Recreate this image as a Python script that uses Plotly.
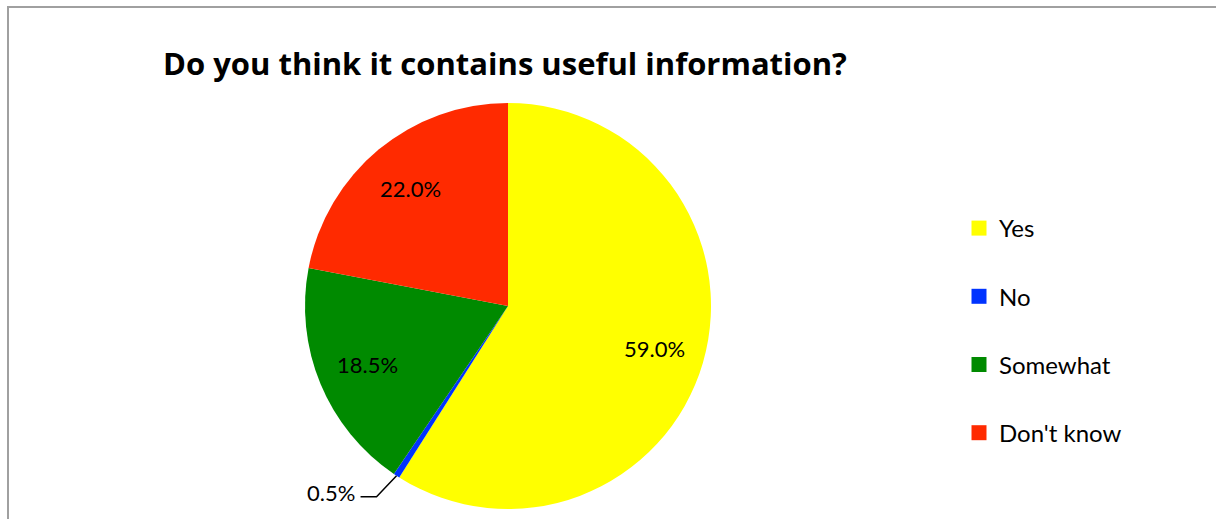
import math
import plotly.graph_objects as go

# Survey answers
categories = ["Yes", "No", "Somewhat", "Don't know"]
shares = [59.0, 0.5, 18.5, 22.0]
colors = ["#FFFF00", "#0033FF", "#008A00", "#FF2A00"]
title_text = "Do you think it contains useful information?"

W, H = 1216, 519
FONT = "Lato, Liberation Sans, sans-serif"

# Pie placement in pixels
cx, cy, r = 508, 306, 203

fig = go.Figure()
fig.add_trace(go.Pie(
    labels=categories,
    values=shares,
    sort=False,
    direction="clockwise",
    rotation=0,
    marker=dict(colors=colors, line=dict(width=0)),
    textinfo="none",
    hoverinfo="label+percent",
    showlegend=False,
    domain=dict(x=[(cx - r) / W, (cx + r) / W], y=[(H - cy - r) / H, (H - cy + r) / H]),
))

# Legend entries drawn as square markers, one group each for wide spacing
for name, col in zip(categories, colors):
    fig.add_trace(go.Scatter(
        x=[None], y=[None], mode="markers", name=name,
        marker=dict(symbol="square", size=15, color=col),
        legendgroup=name, showlegend=True,
    ))


def to_paper(px, py):
    return px / W, 1 - py / H


annotations = []
shapes = []
total = sum(shares)
cum = 0.0
for name, v in zip(categories, shares):
    mid = (cum + v / 2) / total * 2 * math.pi
    cum += v
    sx, sy = math.sin(mid), -math.cos(mid)
    label = f"{v:.1f}%"
    if v / total > 0.02:
        px, py = cx + 0.75 * r * sx, cy + 0.75 * r * sy
        x, y = to_paper(px, py)
        annotations.append(dict(x=x, y=y, xref="paper", yref="paper", text=label,
                                xanchor="center", yanchor="middle", showarrow=False,
                                font=dict(size=22, color="#000000", family=FONT)))
    else:
        # small slice: label outside with a leader line
        ex, ey = cx + r * sx, cy + r * sy
        kx, ky = ex - 20, ey + 21
        tx = kx - 16
        x0, y0 = to_paper(ex, ey)
        x1, y1 = to_paper(kx, ky)
        x2, y2 = to_paper(tx, ky)
        shapes.append(dict(type="path", xref="paper", yref="paper",
                           path=f"M {x0} {y0} L {x1} {y1} L {x2} {y2}",
                           line=dict(color="#000000", width=1.5)))
        lx, ly = to_paper(tx - 4, ky - 4)
        annotations.append(dict(x=lx, y=ly, xref="paper", yref="paper", text=label,
                                xanchor="right", yanchor="middle", showarrow=False,
                                font=dict(size=22, color="#000000", family=FONT)))

# Chart area frame
shapes.append(dict(type="rect", xref="paper", yref="paper",
                   x0=8 / W, y0=-0.05, x1=1.05, y1=1 - 7 / H,
                   line=dict(color="#A0A0A0", width=2), fillcolor="rgba(0,0,0,0)"))

annotations.append(dict(x=505 / W, y=1 - 63 / H, xref="paper", yref="paper",
                        xanchor="center", yanchor="middle",
                        text=f"<b>{title_text}</b>", showarrow=False,
                        font=dict(size=31, color="#000000", family="Open Sans, sans-serif")))

fig.update_layout(
    width=W, height=H,
    margin=dict(l=0, r=0, t=0, b=0),
    paper_bgcolor="white", plot_bgcolor="white",
    xaxis=dict(visible=False), yaxis=dict(visible=False),
    annotations=annotations, shapes=shapes,
    legend=dict(x=959 / W, y=1 - 206 / H, xanchor="left", yanchor="top",
                tracegroupgap=34, font=dict(size=24, color="#000000", family=FONT),
                itemwidth=30, bgcolor="rgba(0,0,0,0)"),
)

fig.write_html("out.html")
